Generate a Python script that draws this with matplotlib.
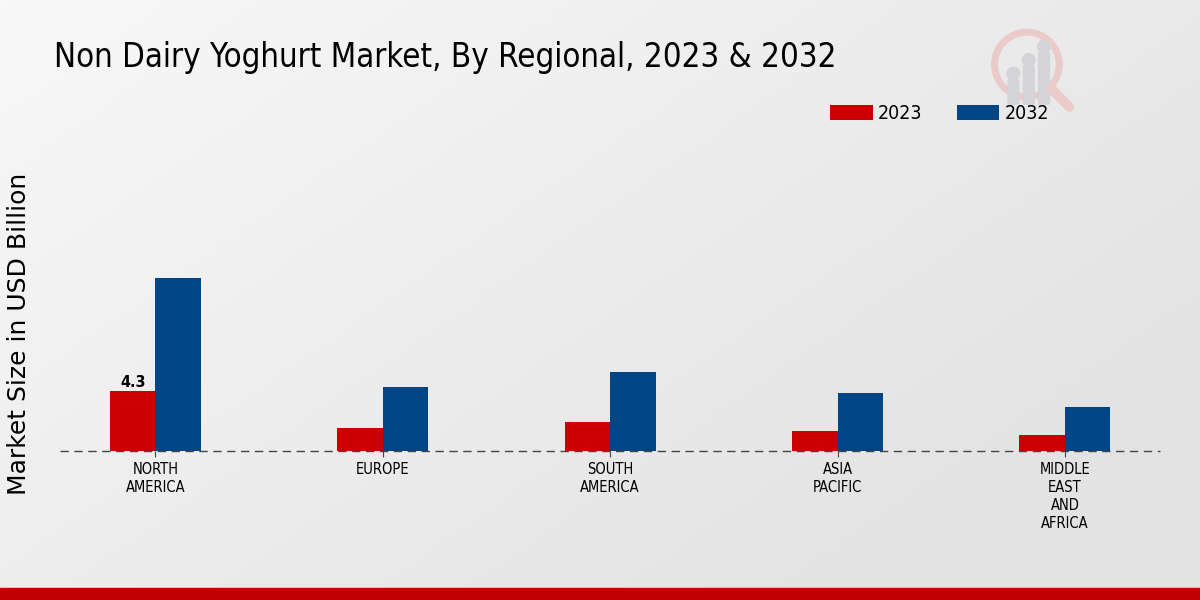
import numpy as np
import matplotlib
matplotlib.use("Agg")
import matplotlib.pyplot as plt
from matplotlib.patches import Rectangle, Circle, FancyBboxPatch

# data
regions = ["NORTH\nAMERICA", "EUROPE", "SOUTH\nAMERICA", "ASIA\nPACIFIC", "MIDDLE\nEAST\nAND\nAFRICA"]
years = ["2023", "2032"]
vals_2023 = [4.3, 1.65, 2.1, 1.45, 1.15]
vals_2032 = [12.4, 4.6, 5.65, 4.15, 3.15]
colors = ["#cc0000", "#004687"]

fig = plt.figure(figsize=(12, 6), dpi=100)

# background gradient (light top-left, greyer elsewhere)
bg = fig.add_axes([0, 0, 1, 1], zorder=-10)
gx, gy = np.meshgrid(np.linspace(0, 1, 200), np.linspace(0, 1, 100))
grad = np.clip(0.7 * gx + 0.5 * gy, 0, 1)
bg.imshow(grad, cmap=matplotlib.colors.LinearSegmentedColormap.from_list("g", ["#f8f8f8", "#e3e3e3"]),
          extent=[0, 1, 0, 1], aspect="auto", origin="upper")
bg.add_patch(Rectangle((0, 0), 1, 0.02, color="#c00000", transform=bg.transAxes))
bg.set_xlim(0, 1); bg.set_ylim(0, 1)
bg.axis("off")

# faint watermark logo
lg = fig.add_axes([0.822, 0.81, 0.075, 0.15], zorder=-5)
lg.set_xlim(0, 1); lg.set_ylim(0, 1); lg.axis("off")
lg.add_patch(Circle((0.45, 0.55), 0.36, fill=False, lw=5, ec="#ebcaca"))
lg.plot([0.72, 0.92], [0.28, 0.08], color="#ebcaca", lw=7, solid_capstyle="round")
for bx, bh in [(0.25, 0.25), (0.42, 0.4), (0.59, 0.55)]:
    lg.add_patch(FancyBboxPatch((bx, 0.12), 0.1, bh, boxstyle="round,pad=0.01", color="#d4d4d8"))
    lg.add_patch(Circle((bx + 0.05, 0.12 + bh + 0.08), 0.07, color="#d4d4d8"))

ax = fig.add_axes([0.05, 0.248, 0.917, 0.5])
ax.set_facecolor("none")
x = np.arange(len(regions))
w = 0.2
b1 = ax.bar(x - w / 2, vals_2023, w, color=colors[0], label=years[0], zorder=2)
b2 = ax.bar(x + w / 2, vals_2032, w, color=colors[1], label=years[1], zorder=2)
ax.text(x[0] - w / 2, vals_2023[0] + 0.1, "4.3", ha="center", va="bottom",
        fontsize=11.5, fontweight="bold", fontstretch="condensed")

ax.set_xlim(-0.42, 4.42)
ax.set_ylim(0, 21.5)
ax.axhline(0, color="#444444", lw=1, ls=(0, (6, 4)), clip_on=False, zorder=3)
for s in ax.spines.values():
    s.set_visible(False)
ax.set_yticks([])
ax.set_xticks(x)
ax.set_xticklabels(regions, fontsize=10.5, fontstretch="condensed", linespacing=1.25)
ax.tick_params(axis="x", length=4, color="#444444", pad=4)
ax.set_ylabel("Market Size in USD Billion", fontsize=18)
ax.yaxis.set_label_coords(-0.026, 0.39)

fig.text(0.045, 0.905, "Non Dairy Yoghurt Market, By Regional, 2023 & 2032",
         fontsize=23.7, fontstretch="condensed", va="center")
fig.legend(handles=[b1, b2], labels=years, loc="center", bbox_to_anchor=(0.783, 0.81),
           ncol=2, frameon=False, prop={"size": 14, "stretch": "condensed"},
           handlelength=2.2, handleheight=0.8, handletextpad=0.25, columnspacing=1.75)

fig.savefig("out.png", dpi=100)
